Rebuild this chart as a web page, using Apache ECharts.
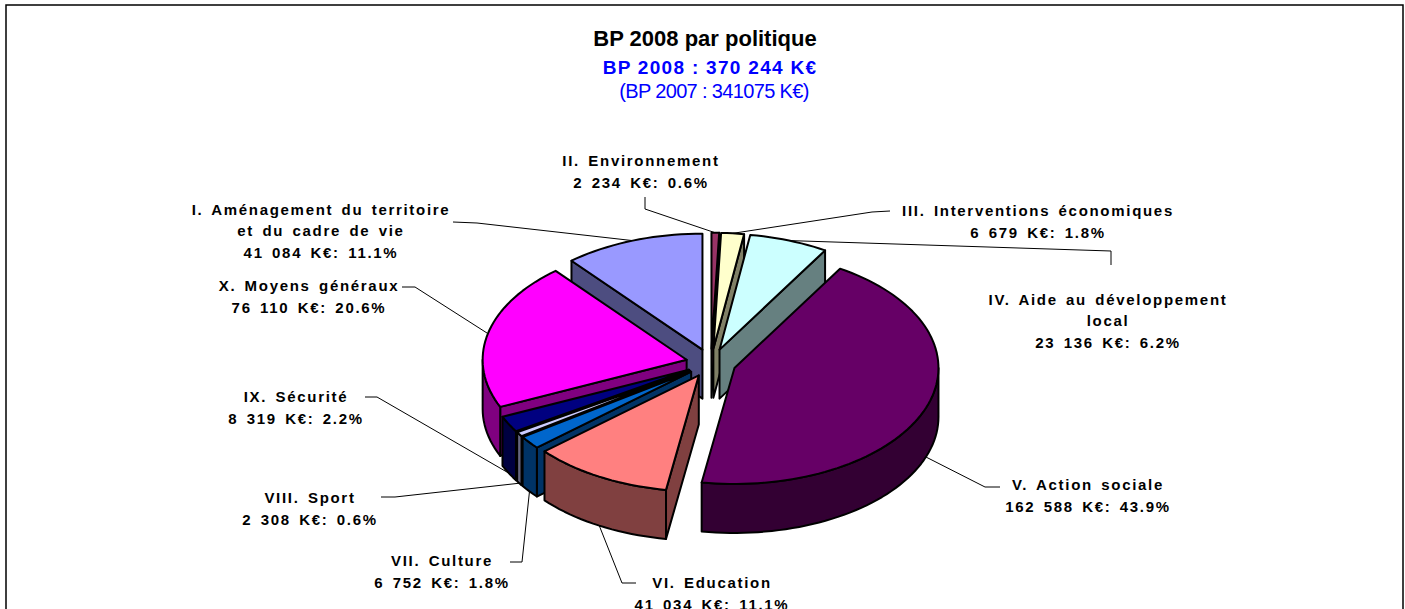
<!DOCTYPE html>
<html>
<head>
<meta charset="utf-8">
<title>BP 2008 par politique</title>
<style>
    html, body { margin: 0; padding: 0; background: #fff; }
    #camembert { width: 1405px; height: 609px; }
    #camembert text { letter-spacing: 1.7px; word-spacing: 2.5px; }
    #camembert text[style*="22px"] { letter-spacing: 0; word-spacing: 0; }
    #camembert text[style*="19px"] { letter-spacing: 1.3px; word-spacing: 0; }
    #camembert text[style*="20px"] { letter-spacing: -0.65px; word-spacing: 0; }
</style>
<script src="https://cdn.jsdelivr.net/npm/echarts@6/dist/echarts.min.js"></script>
</head>
<body>
<div id="camembert"></div>
<script>
var politiques = [
    'II. Environnement',
    'III. Interventions économiques',
    'IV. Aide au développement\nlocal',
    'V. Action sociale',
    'VI. Education',
    'VII. Culture',
    'VIII. Sport',
    'IX. Sécurité',
    'X. Moyens généraux',
    'I. Aménagement du territoire\net du cadre de vie'
];
var montants = [2234, 6679, 23136, 162588, 41034, 6752, 2308, 8319, 76110, 41084];

var couleurs = ['#993366', '#ffffcc', '#ccffff', '#660066', '#ff8080', '#0066cc', '#ccccff', '#000080', '#ff00ff', '#9999ff'];
var flancs = ['#4d1a33', '#808066', '#668080', '#330033', '#804040', '#003366', '#666680', '#000040', '#800080', '#4d4d80'];

// place des etiquettes : centre du texte, puis coude du trait
var etiquettes = [
    { x: 641, y: 171.5, trait: [[645, 197], [645, 209]] },
    { x: 1038, y: 221.5, trait: [[890, 211], [872, 212]] },
    { x: 1108, y: 320.5, trait: [[1111, 265], [1111, 251]] },
    { x: 1088, y: 495.5, trait: [[1000, 487], [985, 487]] },
    { x: 712, y: 593.5, trait: [[636, 583], [622, 583]] },
    { x: 442, y: 571.5, trait: [[510, 562], [522, 562]] },
    { x: 310, y: 508.5, trait: [[381, 497], [395, 497]] },
    { x: 296, y: 407.5, trait: [[365, 397], [377, 397]] },
    { x: 309, y: 296.5, trait: [[402, 287], [415, 287]] },
    { x: 321, y: 230.5, trait: [[453, 222], [477, 223]] }
];

var centreX = 711, centreY = 363;
var rayonX = 204, rayonY = 116, eclatement = 25, epaisseur = 49;

var total = 0;
montants.forEach(function (m) { total += m; });

var tranches = [];
var cumul = 0;
montants.forEach(function (m, i) {
    var a0 = cumul / total * 360;
    cumul += m;
    var a1 = cumul / total * 360;
    tranches.push({ i: i, a0: a0, a1: a1, mid: (a0 + a1) / 2 });
});

function rad(a) { return a * Math.PI / 180; }

function pointe(t) {
    return [
        centreX + eclatement * Math.sin(rad(t.mid)),
        centreY - eclatement * rayonY / rayonX * Math.cos(rad(t.mid))
    ];
}

function bord(t, a, dy) {
    var p = pointe(t);
    return [p[0] + rayonX * Math.sin(rad(a)), p[1] - rayonY * Math.cos(rad(a)) + (dy || 0)];
}

function arc(t, a0, a1, dy) {
    var pts = [];
    var n = Math.max(2, Math.ceil((a1 - a0) / 2));
    for (var k = 0; k <= n; k++) {
        pts.push(bord(t, a0 + (a1 - a0) * k / n, dy));
    }
    return pts;
}

function milliers(m) {
    return String(m).replace(/\B(?=(\d{3})+$)/g, ' ');
}

function poly(points, fill, z2) {
    return {
        type: 'polygon',
        z2: z2,
        shape: { points: points },
        style: { fill: fill, stroke: '#000', lineWidth: 2, lineJoin: 'round' }
    };
}

// les tranches du fond d'abord, celles de devant par dessus
var ordre = tranches.slice().sort(function (a, b) {
    return Math.cos(rad(b.mid)) - Math.cos(rad(a.mid));
});

function dessineTranche(params, api) {
    var t = ordre[api.value(0)];
    var base = params.dataIndex * 10;
    var p = pointe(t);
    var bas = [p[0], p[1] + epaisseur];
    var enfants = [];

    // flanc droit ou gauche, seulement s'il regarde vers nous
    if (t.a0 > 180) {
        var d0 = bord(t, t.a0);
        enfants.push(poly([p, d0, [d0[0], d0[1] + epaisseur], bas], flancs[t.i], base + 1));
    }
    if (t.a1 < 180) {
        var d1 = bord(t, t.a1);
        enfants.push(poly([p, d1, [d1[0], d1[1] + epaisseur], bas], flancs[t.i], base + 1));
    }
    // paroi courbe de devant
    var deb = Math.max(t.a0, 90), fin = Math.min(t.a1, 270);
    if (fin > deb) {
        var paroi = arc(t, deb, fin, 0).concat(arc(t, deb, fin, epaisseur).reverse());
        enfants.push(poly(paroi, flancs[t.i], base + 2));
    }
    // dessus
    enfants.push(poly([p].concat(arc(t, t.a0, t.a1, 0)), couleurs[t.i], base + 3));

    return { type: 'group', children: enfants };
}

function dessineEtiquette(params, api) {
    var t = tranches[api.value(0)];
    var e = etiquettes[t.i];
    var devant = t.mid > 90 && t.mid < 270;
    var bout = [
        centreX + (rayonX + eclatement) * Math.sin(rad(t.mid)),
        centreY - (rayonX + eclatement) * rayonY / rayonX * Math.cos(rad(t.mid)) + (devant ? epaisseur : 0)
    ];
    return {
        type: 'group',
        children: [
            {
                type: 'polyline',
                shape: { points: e.trait.concat([bout]) },
                style: { fill: 'none', stroke: '#000', lineWidth: 1 }
            },
            {
                type: 'text',
                style: {
                    x: e.x,
                    y: e.y,
                    text: politiques[t.i] + '\n' + milliers(montants[t.i]) + ' K€: ' + (montants[t.i] / total * 100).toFixed(1) + '%',
                    font: 'bold 15px "Liberation Sans", Arial, sans-serif',
                    fill: '#000',
                    lineHeight: 21.5,
                    align: 'center',
                    verticalAlign: 'middle'
                }
            }
        ]
    };
}

var myChart = echarts.init(document.getElementById('camembert'), null, { renderer: 'svg' });

var option = {
    animation: false,
    backgroundColor: '#fff',
    title: [
        {
            text: 'BP 2008 par politique',
            left: 705, top: 38, textAlign: 'center', textVerticalAlign: 'middle', padding: 0,
            textStyle: { fontFamily: 'Liberation Sans', fontSize: 22, fontWeight: 'bold', color: '#000' }
        },
        {
            text: 'BP 2008 : 370 244 K€',
            left: 710, top: 67, textAlign: 'center', textVerticalAlign: 'middle', padding: 0,
            textStyle: { fontFamily: 'Liberation Sans', fontSize: 19, fontWeight: 'bold', color: '#0000ff' }
        },
        {
            text: '(BP 2007 : 341075 K€)',
            left: 714, top: 91, textAlign: 'center', textVerticalAlign: 'middle', padding: 0,
            textStyle: { fontFamily: 'Liberation Sans', fontSize: 20, fontWeight: 'normal', color: '#0000ff' }
        }
    ],
    graphic: [{
        type: 'rect',
        shape: { x: 6, y: 5, width: 1397, height: 640 },
        style: { fill: 'none', stroke: '#000', lineWidth: 1.5 }
    }],
    series: [
        {
            type: 'custom',
            coordinateSystem: 'none',
            silent: true,
            renderItem: dessineTranche,
            data: ordre.map(function (t, k) { return [k]; })
        },
        {
            type: 'custom',
            coordinateSystem: 'none',
            silent: true,
            renderItem: dessineEtiquette,
            data: tranches.map(function (t, k) { return [k]; })
        }
    ]
};

myChart.setOption(option);
</script>
</body>
</html>
